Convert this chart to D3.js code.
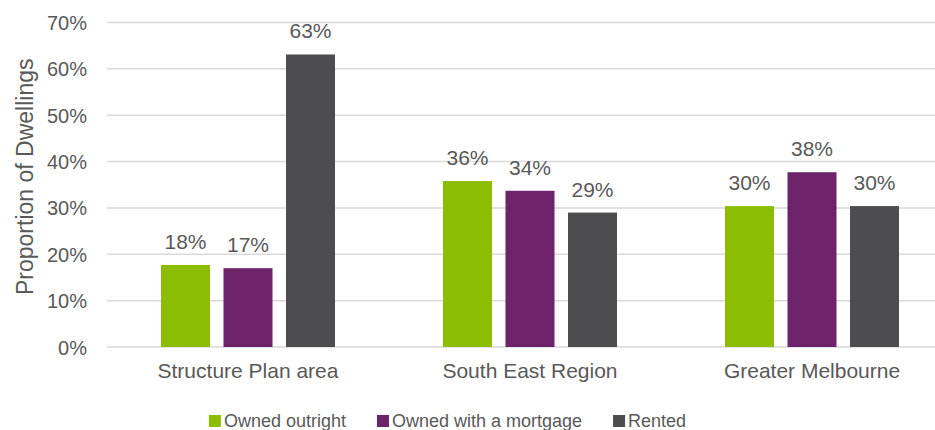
<!DOCTYPE html>
<html>
<head>
<meta charset="utf-8">
<script src="https://cdn.jsdelivr.net/npm/d3@7"></script>
<style>
  html, body { margin: 0; padding: 0; background: #fff; }
  svg { display: block; font-family: "Liberation Sans", Arial, sans-serif; }
</style>
</head>
<body>
<svg id="chart" width="935" height="430"></svg>
<script>
const categories = ["Structure Plan area", "South East Region", "Greater Melbourne"];
const seriesNames = ["Owned outright", "Owned with a mortgage", "Rented"];
const ownedOutright = [17.7, 35.8, 30.4];
const ownedMortgage = [17.0, 33.7, 37.7];
const rented = [63.1, 29.0, 30.4];
const dataLabels = [["18%", "36%", "30%"], ["17%", "34%", "38%"], ["63%", "29%", "30%"]];
const yTicks = [0, 10, 20, 30, 40, 50, 60, 70];
const colors = ["#8cbd00", "#6c2369", "#4d4d4f"];

const series = [ownedOutright, ownedMortgage, rented];

const svg = d3.select("#chart");
const plotLeft = 107, plotRight = 953, plotTop = 22.5, plotBottom = 347;

const x0 = d3.scaleBand().domain(categories).range([plotLeft, plotRight]).paddingInner(0).paddingOuter(0);
const x1 = d3.scaleBand().domain(d3.range(3)).range([0, x0.bandwidth()]).paddingInner(0.216).paddingOuter(0.864);
const y = d3.scaleLinear().domain([0, 70]).range([plotBottom, plotTop]);

const textColor = "#595959";

// gridlines
svg.append("g").selectAll("line").data(yTicks).join("line")
  .attr("x1", plotLeft).attr("x2", plotRight)
  .attr("y1", d => y(d)).attr("y2", d => y(d))
  .attr("stroke", "#d9d9d9").attr("stroke-width", 1.5);

// y axis labels
const yAxis = d3.axisLeft(y).tickValues(yTicks).tickFormat(d => d + "%").tickSize(0).tickPadding(20);
const ya = svg.append("g").attr("transform", `translate(${plotLeft},0)`).call(yAxis);
ya.select(".domain").remove();
ya.selectAll("text").attr("fill", textColor).style("font-size", "20px")
  .style("font-family", "Liberation Sans, Arial, sans-serif").attr("dy", "0.35em");

// bars
const groups = svg.append("g").selectAll("g").data(categories).join("g")
  .attr("transform", c => `translate(${x0(c)},0)`);

groups.each(function(c, ci) {
  const g = d3.select(this);
  series.forEach((s, si) => {
    g.append("rect")
      .attr("x", x1(si)).attr("width", x1.bandwidth())
      .attr("y", y(s[ci])).attr("height", y(0) - y(s[ci]))
      .attr("fill", colors[si]);
    g.append("text")
      .attr("x", x1(si) + x1.bandwidth() / 2)
      .attr("y", y(s[ci]) - 16)
      .attr("text-anchor", "middle")
      .attr("fill", textColor).style("font-size", "21px")
      .text(dataLabels[si][ci]);
  });
});

// x axis labels
const xAxis = d3.axisBottom(x0).tickSize(0).tickPadding(16);
const xa = svg.append("g").attr("transform", `translate(0,${plotBottom})`).call(xAxis);
xa.select(".domain").remove();
xa.selectAll("text").attr("fill", textColor).style("font-size", "21px")
  .style("font-family", "Liberation Sans, Arial, sans-serif");

// y title
svg.append("text")
  .attr("transform", `translate(33,${(plotTop + plotBottom) / 2 - 8}) rotate(-90)`)
  .attr("text-anchor", "middle")
  .attr("fill", textColor).style("font-size", "23px")
  .text("Proportion of Dwellings");

// legend
const legend = svg.append("g");
let lx = 0;
seriesNames.forEach((n, i) => {
  const item = legend.append("g").attr("transform", `translate(${lx},0)`);
  item.append("rect").attr("x", 0).attr("y", 415).attr("width", 12).attr("height", 12).attr("fill", colors[i]);
  const t = item.append("text").attr("x", 15).attr("y", 427)
    .attr("fill", textColor).style("font-size", "18px").text(n);
  lx += 15 + t.node().getComputedTextLength() + 31;
});
const totalW = lx - 31;
legend.attr("transform", `translate(${447.5 - totalW / 2},0)`);
</script>
</body>
</html>
